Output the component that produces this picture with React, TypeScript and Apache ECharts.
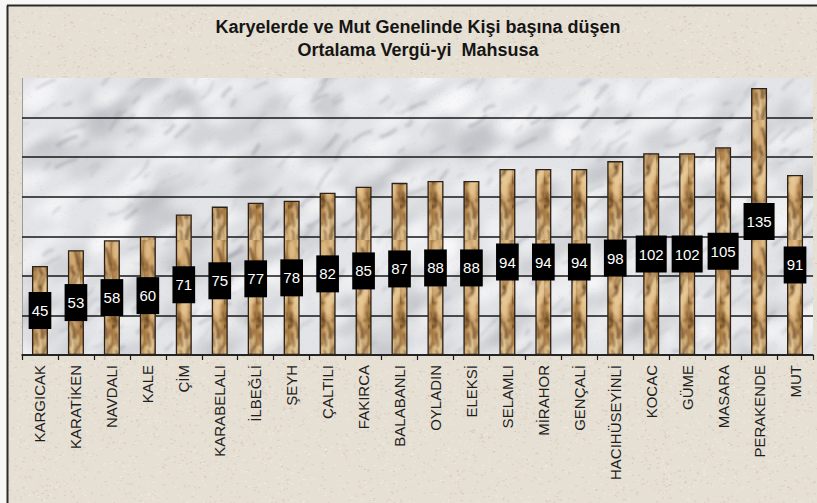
import React, { useEffect, useRef } from 'react';
import * as echarts from 'echarts';

const titleLines = ['Karyelerde ve Mut Genelinde Kişi başına düşen', 'Ortalama Vergü-yi  Mahsusa'];
const categories = [
  'KARGICAK', 'KARATİKEN', 'NAVDALI', 'KALE', 'ÇİM', 'KARABELALI', 'İLBEĞLİ', 'ŞEYH',
  'ÇALTILI', 'FAKIRCA', 'BALABANLI', 'OYLADIN', 'ELEKSİ', 'SELAMLI', 'MİRAHOR', 'GENÇALİ',
  'HACIHÜSEYİNLİ', 'KOCAC', 'GÜME', 'MASARA', 'PERAKENDE', 'MUT',
];
const values = [45, 53, 58, 60, 71, 75, 77, 78, 82, 85, 87, 88, 88, 94, 94, 94, 98, 102, 102, 105, 135, 91];
const yMin = 0;
const yMax = 140;
const yStep = 20;

// seeded generator used only for decorative textures (not data)
function seeded(seed: number) {
  let s = seed | 0;
  return () => {
    s = (s + 0x6d2b79f5) | 0;
    let t = Math.imul(s ^ (s >>> 15), 1 | s);
    t = (t + Math.imul(t ^ (t >>> 7), 61 | t)) ^ t;
    return ((t ^ (t >>> 14)) >>> 0) / 4294967296;
  };
}

function makeMarble(w: number, h: number): string {
  const c = document.createElement('canvas');
  c.width = w; c.height = h;
  const ctx = c.getContext('2d')!;
  ctx.fillStyle = '#e3e4e7';
  ctx.fillRect(0, 0, w, h);
  const r = seeded(11);
  ctx.filter = 'blur(4px)';
  for (let i = 0; i < 420; i++) {
    const x = r() * w, y = r() * h;
    ctx.fillStyle = r() > 0.45 ? 'rgba(250,250,252,0.55)' : 'rgba(180,182,190,0.35)';
    ctx.beginPath();
    ctx.ellipse(x, y, 8 + r() * 22, 4 + r() * 9, -0.5, 0, Math.PI * 2);
    ctx.fill();
  }
  ctx.filter = 'blur(1.6px)';
  for (let i = 0; i < 320; i++) {
    const x = r() * w, y = r() * h;
    const len = 6 + r() * 22;
    const ang = -0.3 - r() * 0.7;
    const dx = Math.cos(ang) * len, dy = Math.sin(ang) * len;
    ctx.strokeStyle = `rgba(115,117,128,${0.1 + r() * 0.25})`;
    ctx.lineWidth = 1 + r() * 2.5;
    ctx.beginPath();
    ctx.moveTo(x, y);
    ctx.quadraticCurveTo(x + dx / 2 + (r() - 0.5) * 10, y + dy / 2 + (r() - 0.5) * 10, x + dx, y + dy);
    ctx.stroke();
  }
  ctx.filter = 'none';
  for (let i = 0; i < 6000; i++) {
    const g = 160 + Math.floor(r() * 90);
    ctx.fillStyle = `rgba(${g},${g},${g + 4},0.2)`;
    ctx.fillRect(r() * w, r() * h, 1, 1);
  }
  return c.toDataURL();
}

function makeBeige(w: number, h: number): string {
  const c = document.createElement('canvas');
  c.width = w; c.height = h;
  const ctx = c.getContext('2d')!;
  ctx.fillStyle = '#e6dfd3';
  ctx.fillRect(0, 0, w, h);
  const r = seeded(5);
  for (let i = 0; i < 16000; i++) {
    const d = r();
    ctx.fillStyle = d > 0.5 ? 'rgba(200,188,168,0.5)' : 'rgba(246,242,234,0.6)';
    ctx.fillRect(r() * w, r() * h, 1 + Math.floor(r() * 2), 1);
  }
  return c.toDataURL();
}

function makeWood(w: number, h: number): string {
  const c = document.createElement('canvas');
  c.width = w; c.height = h;
  const ctx = c.getContext('2d')!;
  const g = ctx.createLinearGradient(0, 0, w, 0);
  g.addColorStop(0, '#a5783f');
  g.addColorStop(0.35, '#cfa56c');
  g.addColorStop(0.65, '#d3ab75');
  g.addColorStop(1, '#a97c45');
  ctx.fillStyle = g;
  ctx.fillRect(0, 0, w, h);
  const r = seeded(3);
  ctx.filter = 'blur(0.9px)';
  for (let i = 0; i < 20; i++) {
    const x = r() * w, y = r() * h;
    ctx.fillStyle = `rgba(235,205,155,${0.35 + r() * 0.4})`;
    ctx.beginPath();
    ctx.ellipse(x, y, 2 + r() * 3, 4 + r() * 7, 0, 0, Math.PI * 2);
    ctx.fill();
  }
  for (let i = 0; i < 24; i++) {
    const x = r() * w, y = r() * h;
    ctx.strokeStyle = `rgba(85,55,25,${0.35 + r() * 0.4})`;
    ctx.lineWidth = 1 + r() * 2;
    ctx.beginPath();
    ctx.moveTo(x, y);
    ctx.bezierCurveTo(x + (r() - 0.5) * 12, y + 5, x + (r() - 0.5) * 12, y + 10, x + (r() - 0.5) * 10, y + 6 + r() * 12);
    ctx.stroke();
  }
  ctx.filter = 'none';
  return c.toDataURL();
}

export default function App() {
  const ref = useRef<HTMLDivElement>(null);
  useEffect(() => {
    document.body.style.margin = '0';
    if (!ref.current) return;
    const chart = echarts.init(ref.current, undefined, { renderer: 'svg' });
    const W = 817, H = 503;
    const gl = 22, gt = 78, gr = 4, gb = 148;
    const marble = makeMarble(W - gl - gr, H - gt - gb);
    const beige = makeBeige(W - 8, H - 6);
    const wood = makeWood(16, 120);
    chart.setOption({
      animation: false,
      backgroundColor: '#f7f7f5',
      graphic: [
        { type: 'image', x: 8, y: 6, z: -100, silent: true, style: { image: beige, width: W - 8, height: H - 6 } },
        { type: 'image', x: gl, y: gt, z: -90, silent: true, style: { image: marble, width: W - gl - gr, height: H - gt - gb } },
        { type: 'line', z: -80, silent: true, shape: { x1: 7.5, y1: 5.5, x2: 7.5, y2: H }, style: { stroke: '#2a2a2a', lineWidth: 2 } },
        { type: 'line', z: -80, silent: true, shape: { x1: 7, y1: 5.5, x2: W, y2: 5.5 }, style: { stroke: '#2a2a2a', lineWidth: 2 } },
        { type: 'line', z: -80, silent: true, shape: { x1: gl + 0.5, y1: gt, x2: gl + 0.5, y2: H - gb }, style: { stroke: '#9c9c9c', lineWidth: 1 } },
        {
          type: 'text', x: 418, y: 15, z: 10, silent: true,
          style: {
            text: titleLines.join('\n'), fill: '#151515', font: 'bold 18px Arial, "Liberation Sans", sans-serif',
            textAlign: 'center', textVerticalAlign: 'top', lineHeight: 23,
          },
        },
      ],
      grid: { left: gl, top: gt, right: gr, bottom: gb, containLabel: false },
      xAxis: {
        type: 'category',
        data: categories,
        axisLine: { lineStyle: { color: '#1a1a1a', width: 1.5 } },
        axisTick: { show: true, length: 5, lineStyle: { color: '#1a1a1a', width: 1.2 } },
        axisLabel: {
          interval: 0, rotate: 90, margin: 10, color: '#1e1e1e', fontSize: 15,
          fontFamily: 'Arial, "Liberation Sans", sans-serif',
        },
      },
      yAxis: {
        type: 'value',
        min: yMin, max: yMax, interval: yStep,
        axisLine: { show: false },
        axisTick: { show: false },
        axisLabel: { show: false },
        splitLine: { show: true, showMaxLine: false, lineStyle: { color: '#161616', width: 1.6 } },
      },
      series: [
        {
          type: 'bar',
          data: values,
          barWidth: 16,
          itemStyle: {
            color: { image: wood, repeat: 'repeat', imageWidth: 16, imageHeight: 120 } as any,
            borderColor: '#2b2118',
            borderWidth: 1.3,
          },
          label: {
            show: true,
            position: 'inside',
            color: '#ffffff',
            backgroundColor: '#000000',
            fontSize: 15,
            lineHeight: 15,
            fontFamily: 'Arial, "Liberation Sans", sans-serif',
            padding: [11, 3],
          },
        },
      ],
    });
    return () => chart.dispose();
  }, []);
  return <div ref={ref} style={{ width: 817, height: 503 }} />;
}
